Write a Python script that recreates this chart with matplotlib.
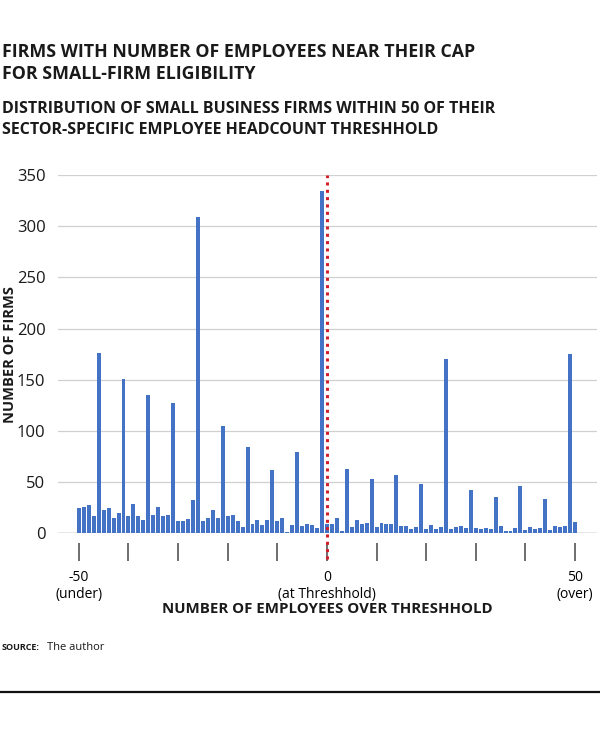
import numpy as np
import matplotlib
matplotlib.use('Agg')
import matplotlib.pyplot as plt

plt.rcParams['font.family'] = ['Open Sans', 'DejaVu Sans']

# employees over threshold (-50 .. 50) and number of firms
over = np.arange(-50, 51)
firms = [25, 26, 28, 17, 176, 23, 25, 15, 20, 151,
         17, 29, 17, 13, 135, 18, 26, 17, 18, 127,
         12, 12, 14, 33, 309, 12, 15, 23, 15, 105,
         17, 18, 12, 6, 84, 9, 13, 8, 13, 62,
         12, 15, 1, 8, 80, 7, 9, 8, 5, 334,
         9, 9, 15, 2, 63, 6, 13, 9, 10, 53,
         6, 10, 9, 9, 57, 7, 7, 4, 6, 48,
         4, 8, 4, 6, 170, 4, 6, 7, 5, 42,
         5, 4, 5, 4, 36, 7, 2, 2, 5, 46,
         3, 6, 4, 5, 34, 3, 7, 6, 7, 175,
         11]
xtick_pos = np.arange(-50, 51, 10)
xtick_labels = ['-50\n(under)', '', '', '', '', '0\n(at Threshhold)', '', '', '', '', '50\n(over)']
ytick_pos = [0, 50, 100, 150, 200, 250, 300, 350]

title = 'FIRMS WITH NUMBER OF EMPLOYEES NEAR THEIR CAP\nFOR SMALL-FIRM ELIGIBILITY'
subtitle = 'DISTRIBUTION OF SMALL BUSINESS FIRMS WITHIN 50 OF THEIR\nSECTOR-SPECIFIC EMPLOYEE HEADCOUNT THRESHHOLD'

txt = '#1a1a1a'
blue = '#4472c4'

fig = plt.figure(figsize=(6, 7.43), dpi=100)
ax = fig.add_axes([0.0967, 0.282, 0.898, 0.4825])

ax.bar(over, firms, width=0.8, color=blue, zorder=3)
ax.axvline(0, ymin=-0.07, ymax=1, color='#d0202a', lw=2.2, ls=(0, (1, 1.4)),
           zorder=4, clip_on=False)
ax.axhline(0, color='#a0a0a0', lw=1, zorder=2)

ax.set_xlim(-54.2, 54.4)
ax.set_ylim(0, 350)
ax.set_yticks(ytick_pos)
ax.grid(axis='y', color='#d0d0d0', lw=0.9, zorder=1)
ax.set_xticks(xtick_pos)
ax.set_xticklabels(xtick_labels, fontsize=11.5, color=txt, linespacing=1.3)

for s in ['top', 'right', 'left']:
    ax.spines[s].set_visible(False)
ax.spines['bottom'].set_position(('outward', 7))
ax.spines['bottom'].set_color('none')
ax.tick_params(axis='x', length=13, width=1.2, color='#555555', pad=6)
ax.tick_params(axis='y', length=0, pad=9, labelsize=12, labelcolor=txt)

ax.set_xlabel('NUMBER OF EMPLOYEES OVER THRESHHOLD', fontsize=10.8, fontweight='bold',
              color=txt, labelpad=0)
ax.set_ylabel('NUMBER OF FIRMS', fontsize=10.5, fontweight='bold', color=txt)
ax.yaxis.set_label_coords(-0.076, 0.5)

fig.text(0.003, 1 - 43 / 743, title, fontsize=12.8, fontweight='bold', color=txt,
         va='top', ha='left', linespacing=1.3)
fig.text(0.003, 1 - 101 / 743, subtitle, fontsize=11.5, fontweight='bold', color=txt,
         va='top', ha='left', linespacing=1.45)

fig.text(0.003, 1 - 648 / 743, 'SOURCE:', fontsize=6.5, fontweight='bold', color=txt,
         va='center', ha='left')
fig.text(0.078, 1 - 648 / 743, 'The author', fontsize=8, color=txt, va='center', ha='left')

fig.add_artist(plt.Line2D([0, 1], [1 - 692 / 743, 1 - 692 / 743], color='#111111', lw=1.6))

fig.savefig('out.png', dpi=100, facecolor='white')
